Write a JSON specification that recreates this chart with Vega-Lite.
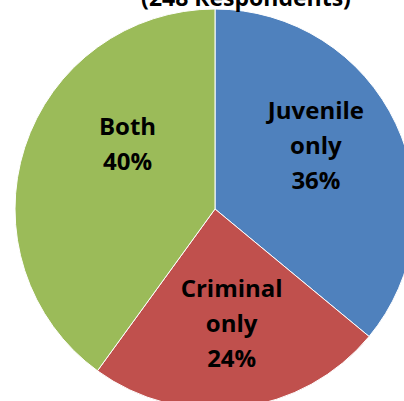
{
  "$schema": "https://vega.github.io/schema/vega-lite/v6.json",
  "width": 430,
  "height": 418,
  "autosize": "none",
  "padding": 0,
  "background": "white",
  "config": {"view": {"stroke": "transparent"}},
  "title": {
    "text": "(248 Respondents)",
    "font": "Open Sans",
    "fontSize": 23,
    "fontWeight": "bold",
    "color": "black",
    "anchor": "middle",
    "baseline": "alphabetic",
    "dx": 31,
    "dy": 29,
    "offset": 0
  },
  "data": {
    "values": [
      {"group": "Juvenile only", "pct": 36, "order": 1, "label": "Juvenile\nonly\n36%"},
      {"group": "Criminal only", "pct": 24, "order": 2, "label": "Criminal\nonly\n24%"},
      {"group": "Both", "pct": 40, "order": 3, "label": "Both\n40%"}
    ]
  },
  "encoding": {
    "theta": {"field": "pct", "type": "quantitative", "stack": true},
    "order": {"field": "order", "type": "quantitative"}
  },
  "layer": [
    {
      "mark": {"type": "arc", "outerRadius": 200, "stroke": "white", "strokeWidth": 1},
      "encoding": {
        "color": {
          "field": "group",
          "type": "nominal",
          "scale": {
            "domain": ["Juvenile only", "Criminal only", "Both"],
            "range": ["#4F81BD", "#C0504D", "#9BBB59"]
          },
          "legend": null
        }
      }
    },
    {
      "mark": {"type": "text", "radius": 127, "dx": -14, "dy": -43, "lineBreak": "\n", "lineHeight": 35, "font": "Open Sans", "fontSize": 24, "fontWeight": "bold", "color": "black", "baseline": "middle"},
      "encoding": {"text": {"condition": {"test": "datum.group == 'Juvenile only'", "field": "label"}, "value": ""}}
    },
    {
      "mark": {"type": "text", "radius": 117, "dx": 2, "dy": -35, "lineBreak": "\n", "lineHeight": 35, "font": "Open Sans", "fontSize": 24, "fontWeight": "bold", "color": "black", "baseline": "middle"},
      "encoding": {"text": {"condition": {"test": "datum.group == 'Criminal only'", "field": "label"}, "value": ""}}
    },
    {
      "mark": {"type": "text", "radius": 92, "dy": -53, "lineBreak": "\n", "lineHeight": 35, "font": "Open Sans", "fontSize": 24, "fontWeight": "bold", "color": "black", "baseline": "middle"},
      "encoding": {"text": {"condition": {"test": "datum.group == 'Both'", "field": "label"}, "value": ""}}
    }
  ]
}
